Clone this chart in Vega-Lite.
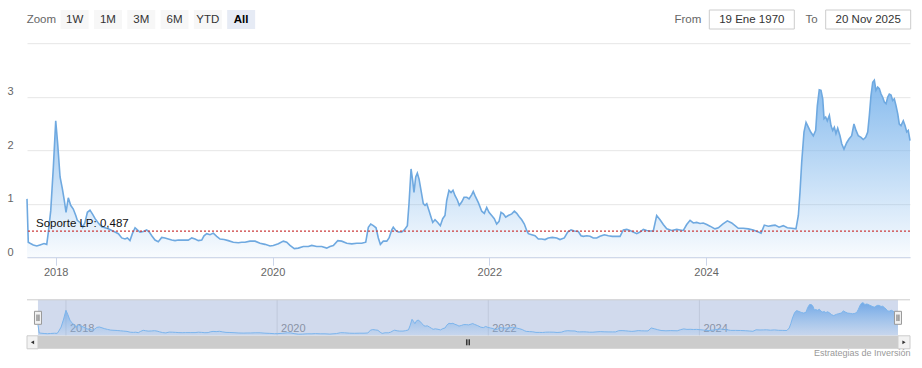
{
  "$schema": "https://vega.github.io/schema/vega-lite/v6.json",
  "padding": {"left": 7, "top": 9, "right": 0, "bottom": 0},
  "config": {"view": {"stroke": null}, "font": "Liberation Sans"},
  "datasets": {
    "serie": [
      {"t":2017.735,"v":1.09},{"t":2017.747,"v":0.28},{"t":2017.763,"v":0.26},{"t":2017.793,"v":0.23},{"t":2017.825,"v":0.21},{"t":2017.855,"v":0.23},{"t":2017.892,"v":0.255},{"t":2017.917,"v":0.24},{"t":2017.932,"v":0.47},{"t":2017.954,"v":0.87},{"t":2017.978,"v":1.68},{"t":2018.000,"v":2.55},{"t":2018.018,"v":2.12},{"t":2018.040,"v":1.50},{"t":2018.061,"v":1.28},{"t":2018.079,"v":1.06},{"t":2018.095,"v":0.84},{"t":2018.116,"v":1.11},{"t":2018.138,"v":0.97},{"t":2018.162,"v":0.90},{"t":2018.185,"v":0.78},{"t":2018.199,"v":0.69},{"t":2018.224,"v":0.65},{"t":2018.249,"v":0.56},{"t":2018.270,"v":0.65},{"t":2018.292,"v":0.84},{"t":2018.316,"v":0.88},{"t":2018.341,"v":0.80},{"t":2018.363,"v":0.72},{"t":2018.393,"v":0.64},{"t":2018.424,"v":0.57},{"t":2018.455,"v":0.55},{"t":2018.485,"v":0.53},{"t":2018.517,"v":0.50},{"t":2018.547,"v":0.47},{"t":2018.578,"v":0.44},{"t":2018.609,"v":0.36},{"t":2018.639,"v":0.34},{"t":2018.661,"v":0.36},{"t":2018.685,"v":0.31},{"t":2018.707,"v":0.44},{"t":2018.732,"v":0.55},{"t":2018.753,"v":0.51},{"t":2018.778,"v":0.47},{"t":2018.808,"v":0.48},{"t":2018.839,"v":0.51},{"t":2018.863,"v":0.47},{"t":2018.886,"v":0.40},{"t":2018.916,"v":0.32},{"t":2018.946,"v":0.29},{"t":2018.978,"v":0.37},{"t":2019.008,"v":0.36},{"t":2019.039,"v":0.34},{"t":2019.070,"v":0.32},{"t":2019.101,"v":0.31},{"t":2019.131,"v":0.32},{"t":2019.177,"v":0.32},{"t":2019.223,"v":0.32},{"t":2019.255,"v":0.36},{"t":2019.285,"v":0.34},{"t":2019.316,"v":0.31},{"t":2019.347,"v":0.32},{"t":2019.368,"v":0.40},{"t":2019.393,"v":0.44},{"t":2019.423,"v":0.42},{"t":2019.454,"v":0.45},{"t":2019.485,"v":0.39},{"t":2019.516,"v":0.34},{"t":2019.553,"v":0.33},{"t":2019.592,"v":0.31},{"t":2019.638,"v":0.28},{"t":2019.685,"v":0.27},{"t":2019.716,"v":0.28},{"t":2019.746,"v":0.28},{"t":2019.792,"v":0.30},{"t":2019.839,"v":0.30},{"t":2019.885,"v":0.26},{"t":2019.931,"v":0.24},{"t":2019.977,"v":0.21},{"t":2020.007,"v":0.22},{"t":2020.054,"v":0.25},{"t":2020.100,"v":0.30},{"t":2020.131,"v":0.28},{"t":2020.161,"v":0.22},{"t":2020.201,"v":0.16},{"t":2020.238,"v":0.17},{"t":2020.284,"v":0.20},{"t":2020.330,"v":0.20},{"t":2020.362,"v":0.22},{"t":2020.408,"v":0.20},{"t":2020.454,"v":0.20},{"t":2020.500,"v":0.17},{"t":2020.530,"v":0.20},{"t":2020.561,"v":0.22},{"t":2020.602,"v":0.31},{"t":2020.638,"v":0.30},{"t":2020.685,"v":0.26},{"t":2020.731,"v":0.25},{"t":2020.777,"v":0.26},{"t":2020.823,"v":0.26},{"t":2020.860,"v":0.28},{"t":2020.884,"v":0.56},{"t":2020.906,"v":0.62},{"t":2020.930,"v":0.59},{"t":2020.955,"v":0.55},{"t":2020.976,"v":0.36},{"t":2020.995,"v":0.24},{"t":2021.022,"v":0.30},{"t":2021.054,"v":0.30},{"t":2021.075,"v":0.36},{"t":2021.100,"v":0.51},{"t":2021.114,"v":0.56},{"t":2021.137,"v":0.50},{"t":2021.161,"v":0.47},{"t":2021.192,"v":0.47},{"t":2021.216,"v":0.51},{"t":2021.244,"v":0.59},{"t":2021.259,"v":1.00},{"t":2021.278,"v":1.65},{"t":2021.293,"v":1.43},{"t":2021.305,"v":1.21},{"t":2021.321,"v":1.50},{"t":2021.336,"v":1.57},{"t":2021.352,"v":1.46},{"t":2021.370,"v":1.25},{"t":2021.391,"v":1.00},{"t":2021.407,"v":0.97},{"t":2021.423,"v":1.00},{"t":2021.444,"v":0.87},{"t":2021.462,"v":0.75},{"t":2021.478,"v":0.65},{"t":2021.499,"v":0.70},{"t":2021.524,"v":0.65},{"t":2021.548,"v":0.59},{"t":2021.570,"v":0.72},{"t":2021.591,"v":0.78},{"t":2021.607,"v":1.06},{"t":2021.628,"v":1.25},{"t":2021.647,"v":1.21},{"t":2021.665,"v":1.25},{"t":2021.684,"v":1.15},{"t":2021.705,"v":1.07},{"t":2021.723,"v":0.97},{"t":2021.745,"v":1.03},{"t":2021.767,"v":1.12},{"t":2021.792,"v":1.12},{"t":2021.813,"v":1.09},{"t":2021.838,"v":1.17},{"t":2021.852,"v":1.23},{"t":2021.868,"v":1.15},{"t":2021.899,"v":1.02},{"t":2021.930,"v":0.86},{"t":2021.954,"v":0.82},{"t":2021.976,"v":0.93},{"t":2021.997,"v":0.84},{"t":2022.022,"v":0.78},{"t":2022.046,"v":0.72},{"t":2022.068,"v":0.62},{"t":2022.090,"v":0.67},{"t":2022.108,"v":0.84},{"t":2022.129,"v":0.81},{"t":2022.151,"v":0.75},{"t":2022.175,"v":0.78},{"t":2022.207,"v":0.81},{"t":2022.231,"v":0.86},{"t":2022.253,"v":0.82},{"t":2022.274,"v":0.76},{"t":2022.299,"v":0.70},{"t":2022.323,"v":0.62},{"t":2022.345,"v":0.50},{"t":2022.360,"v":0.44},{"t":2022.391,"v":0.42},{"t":2022.422,"v":0.40},{"t":2022.452,"v":0.34},{"t":2022.483,"v":0.34},{"t":2022.514,"v":0.33},{"t":2022.544,"v":0.36},{"t":2022.581,"v":0.37},{"t":2022.622,"v":0.36},{"t":2022.652,"v":0.33},{"t":2022.692,"v":0.36},{"t":2022.723,"v":0.47},{"t":2022.754,"v":0.51},{"t":2022.784,"v":0.49},{"t":2022.821,"v":0.48},{"t":2022.846,"v":0.40},{"t":2022.867,"v":0.39},{"t":2022.899,"v":0.40},{"t":2022.929,"v":0.39},{"t":2022.959,"v":0.36},{"t":2022.991,"v":0.36},{"t":2023.021,"v":0.39},{"t":2023.061,"v":0.42},{"t":2023.098,"v":0.40},{"t":2023.135,"v":0.39},{"t":2023.175,"v":0.39},{"t":2023.206,"v":0.39},{"t":2023.236,"v":0.51},{"t":2023.268,"v":0.52},{"t":2023.298,"v":0.50},{"t":2023.328,"v":0.47},{"t":2023.360,"v":0.44},{"t":2023.390,"v":0.47},{"t":2023.421,"v":0.52},{"t":2023.452,"v":0.50},{"t":2023.483,"v":0.49},{"t":2023.513,"v":0.49},{"t":2023.544,"v":0.78},{"t":2023.575,"v":0.70},{"t":2023.605,"v":0.61},{"t":2023.637,"v":0.53},{"t":2023.683,"v":0.50},{"t":2023.729,"v":0.52},{"t":2023.759,"v":0.51},{"t":2023.790,"v":0.50},{"t":2023.821,"v":0.61},{"t":2023.852,"v":0.69},{"t":2023.882,"v":0.64},{"t":2023.913,"v":0.65},{"t":2023.944,"v":0.63},{"t":2023.974,"v":0.64},{"t":2024.006,"v":0.61},{"t":2024.036,"v":0.58},{"t":2024.082,"v":0.53},{"t":2024.113,"v":0.55},{"t":2024.153,"v":0.62},{"t":2024.196,"v":0.68},{"t":2024.236,"v":0.64},{"t":2024.267,"v":0.59},{"t":2024.297,"v":0.54},{"t":2024.343,"v":0.54},{"t":2024.389,"v":0.53},{"t":2024.435,"v":0.51},{"t":2024.472,"v":0.48},{"t":2024.507,"v":0.45},{"t":2024.537,"v":0.60},{"t":2024.574,"v":0.58},{"t":2024.605,"v":0.59},{"t":2024.636,"v":0.60},{"t":2024.673,"v":0.56},{"t":2024.712,"v":0.59},{"t":2024.749,"v":0.55},{"t":2024.790,"v":0.54},{"t":2024.829,"v":0.53},{"t":2024.851,"v":0.78},{"t":2024.866,"v":1.21},{"t":2024.882,"v":1.78},{"t":2024.903,"v":2.34},{"t":2024.922,"v":2.52},{"t":2024.943,"v":2.43},{"t":2024.965,"v":2.34},{"t":2024.989,"v":2.27},{"t":2025.011,"v":2.37},{"t":2025.026,"v":2.83},{"t":2025.044,"v":3.13},{"t":2025.060,"v":3.12},{"t":2025.076,"v":2.96},{"t":2025.088,"v":2.59},{"t":2025.103,"v":2.62},{"t":2025.118,"v":2.55},{"t":2025.137,"v":2.65},{"t":2025.152,"v":2.46},{"t":2025.168,"v":2.37},{"t":2025.183,"v":2.43},{"t":2025.198,"v":2.31},{"t":2025.214,"v":2.41},{"t":2025.235,"v":2.27},{"t":2025.251,"v":2.12},{"t":2025.272,"v":2.02},{"t":2025.297,"v":2.14},{"t":2025.318,"v":2.21},{"t":2025.343,"v":2.27},{"t":2025.364,"v":2.49},{"t":2025.383,"v":2.37},{"t":2025.404,"v":2.27},{"t":2025.429,"v":2.24},{"t":2025.450,"v":2.20},{"t":2025.472,"v":2.24},{"t":2025.491,"v":2.34},{"t":2025.506,"v":2.65},{"t":2025.521,"v":3.02},{"t":2025.537,"v":3.27},{"t":2025.552,"v":3.31},{"t":2025.567,"v":3.12},{"t":2025.583,"v":3.18},{"t":2025.598,"v":3.15},{"t":2025.614,"v":3.05},{"t":2025.629,"v":2.99},{"t":2025.644,"v":2.90},{"t":2025.660,"v":2.87},{"t":2025.675,"v":2.99},{"t":2025.690,"v":3.05},{"t":2025.706,"v":3.03},{"t":2025.721,"v":2.93},{"t":2025.736,"v":2.96},{"t":2025.752,"v":2.83},{"t":2025.768,"v":2.68},{"t":2025.782,"v":2.49},{"t":2025.798,"v":2.46},{"t":2025.819,"v":2.55},{"t":2025.835,"v":2.46},{"t":2025.851,"v":2.34},{"t":2025.865,"v":2.37},{"t":2025.881,"v":2.18}
    ],
    "sop": [{"level": 0.487, "label": "Soporte LP: 0,487"}],
    "botones": [{"b":"Zoom"},{"b":"1W"},{"b":"1M"},{"b":"3M"},{"b":"6M"},{"b":"YTD"},{"b":"All"}],
    "rango": [{"k":"From","d":"19 Ene 1970"},{"k":"To","d":"20 Nov 2025"}],
    "extremos": [{"t":2017.735},{"t":2025.881}],
    "anios": [{"yr":2018},{"yr":2020},{"yr":2022},{"yr":2024}],
    "uno": [{"k":1}]
  },
  "bounds": "flush",
  "spacing": 14.2,
  "vconcat": [
    {
      "width": 883,
      "height": 19,
      "resolve": {"scale": {"x": "independent"}, "axis": {"x": "independent"}},
      "layer": [
        {
          "data": {"name": "botones"},
          "encoding": {"x": {"field": "b", "type": "nominal", "sort": null, "axis": null, "scale": {"type": "band", "domain": ["Zoom","1W","1M","3M","6M","YTD","All"], "range": [0, 228.5], "paddingInner": 0.16, "paddingOuter": 0.0105}}},
          "layer": [
            {"transform": [{"filter": "datum.b !== 'Zoom'"}], "mark": {"type": "rect"}, "encoding": {"color": {"condition": {"test": "datum.b === 'All'", "value": "#e6ebf5"}, "value": "#f7f7f7"}}},
            {"transform": [{"filter": "datum.b !== 'All'"}], "mark": {"type": "text", "fontSize": 11.5, "baseline": "middle"}, "encoding": {"text": {"field": "b"}, "color": {"condition": {"test": "datum.b === 'Zoom'", "value": "#666666"}, "value": "#333333"}}},
            {"transform": [{"filter": "datum.b === 'All'"}], "mark": {"type": "text", "fontSize": 11.5, "fontWeight": "bold", "baseline": "middle", "color": "#000000"}, "encoding": {"text": {"field": "b"}}}
          ]
        },
        {
          "data": {"name": "rango"},
          "encoding": {"x": {"field": "k", "type": "nominal", "sort": null, "axis": null, "scale": {"type": "point", "domain": ["From","To"], "range": [724.8, 841.2], "padding": 0}}},
          "layer": [
            {"mark": {"type": "bar", "width": 85, "fill": "#ffffff", "stroke": "#cccccc", "strokeWidth": 1}},
            {"mark": {"type": "text", "fontSize": 11.5, "baseline": "middle", "color": "#333333"}, "encoding": {"text": {"field": "d"}}},
            {"mark": {"type": "text", "fontSize": 11.5, "baseline": "middle", "align": "right", "dx": -50.5, "color": "#666666"}, "encoding": {"text": {"field": "k"}}}
          ]
        }
      ]
    },
    {
      "width": 883,
      "height": 214,
      "layer": [
        {
          "data": {"name": "serie"},
          "mark": {"type": "area", "line": false, "interpolate": "linear", "fill": {"gradient": "linear", "x1": 0, "y1": 0, "x2": 0, "y2": 1, "stops": [{"offset": 0, "color": "rgba(124,181,236,0.92)"}, {"offset": 1, "color": "rgba(124,181,236,0.05)"}]}},
          "encoding": {
            "x": {"field": "t", "type": "quantitative", "scale": {"domain": [2017.735, 2025.881], "nice": false, "zero": false},
                  "axis": {"title": null, "values": [2018, 2020, 2022, 2024], "format": "d", "grid": false, "domainColor": "#ccd6eb", "tickColor": "#ccd6eb", "tickSize": 8, "labelPadding": 1, "labelFontSize": 11, "labelColor": "#666666", "labelBaseline": "top"}},
            "y": {"field": "v", "type": "quantitative", "scale": {"domain": [0, 4], "nice": false},
                  "axis": {"title": null, "values": [0, 1, 2, 3, 4], "format": "d", "grid": true, "gridColor": "#e6e6e6", "domain": false, "ticks": false, "tickSize": 0, "labelAlign": "left", "labelPadding": 20, "labelBaseline": "alphabetic", "labelOffset": -2, "labelFontSize": 11, "labelColor": "#666666", "labelExpr": "datum.value === 4 ? '' : datum.label"}}
          }
        },
        {
          "data": {"name": "serie"},
          "mark": {"type": "line", "color": "#6fa9e0", "strokeWidth": 1.6},
          "encoding": {"x": {"field": "t", "type": "quantitative", "title": null}, "y": {"field": "v", "type": "quantitative", "title": null}}
        },
        {
          "data": {"name": "sop"},
          "mark": {"type": "rule", "color": "#cc3b3b", "strokeDash": [2, 2], "strokeWidth": 1.2},
          "encoding": {"y": {"field": "level", "type": "quantitative", "title": null}}
        },
        {
          "data": {"name": "sop"},
          "mark": {"type": "text", "align": "left", "baseline": "alphabetic", "dy": -4, "fontSize": 11.5, "color": "#111111"},
          "encoding": {"x": {"datum": 2017.818}, "y": {"field": "level", "type": "quantitative", "title": null}, "text": {"field": "label"}}
        }
      ]
    },
    {
      "width": 883,
      "height": 77.4,
      "title": {"text": "Estrategias de Inversión", "orient": "bottom", "anchor": "end", "fontSize": 9, "fontWeight": "normal", "color": "#999999", "offset": 0},
      "layer": [
        {
          "data": {"name": "anios"},
          "mark": {"type": "rule", "color": "#e6e6e6", "strokeWidth": 1},
          "encoding": {
            "x": {"field": "yr", "type": "quantitative", "scale": {"domain": [2017.631, 2025.995], "nice": false, "zero": false}, "axis": null},
            "y": {"datum": 0, "scale": {"domain": [-1.3, 6.44], "nice": false, "zero": false}, "axis": null},
            "y2": {"datum": 3.6}
          }
        },
        {
          "data": {"name": "anios"},
          "mark": {"type": "text", "align": "left", "baseline": "alphabetic", "dx": 4, "dy": -4, "fontSize": 11, "color": "#999999"},
          "encoding": {"x": {"field": "yr", "type": "quantitative", "axis": null}, "y": {"datum": 0, "axis": null}, "text": {"field": "yr", "type": "quantitative", "format": "d"}}
        },
        {
          "data": {"name": "uno"},
          "mark": {"type": "rect", "fill": "#6685c2", "fillOpacity": 0.3},
          "encoding": {"x": {"datum": 2017.735, "axis": null}, "x2": {"datum": 2025.881}, "y": {"datum": 0, "axis": null}, "y2": {"datum": 3.6}}
        },
        {
          "data": {"name": "serie"},
          "mark": {"type": "area", "line": false, "fill": {"gradient": "linear", "x1": 0, "y1": 0, "x2": 0, "y2": 1, "stops": [{"offset": 0, "color": "rgba(110,165,230,0.95)"}, {"offset": 1, "color": "rgba(124,181,236,0.1)"}]}},
          "encoding": {"x": {"field": "t", "type": "quantitative", "axis": null}, "y": {"field": "v", "type": "quantitative", "axis": null}}
        },
        {
          "data": {"name": "serie"},
          "mark": {"type": "line", "color": "#7cb5ec", "strokeWidth": 1},
          "encoding": {"x": {"field": "t", "type": "quantitative", "axis": null}, "y": {"field": "v", "type": "quantitative", "axis": null}}
        },
        {
          "data": {"name": "uno"},
          "mark": {"type": "rule", "color": "#cccccc", "strokeWidth": 1},
          "encoding": {"y": {"datum": 3.6, "axis": null}}
        },
        {
          "data": {"name": "extremos"},
          "mark": {"type": "point", "shape": "M-0.54,-1H0.54V1H-0.54Z", "size": 169, "filled": true, "fill": "#f2f2f2", "stroke": "#999999", "strokeWidth": 1, "opacity": 1},
          "encoding": {"x": {"field": "t", "type": "quantitative", "axis": null}, "y": {"datum": 1.8, "axis": null}}
        },
        {
          "data": {"name": "extremos"},
          "mark": {"type": "point", "shape": "M-0.15,-0.5V0.5M0.15,-0.5V0.5", "size": 169, "filled": false, "stroke": "#666666", "strokeWidth": 1, "opacity": 1},
          "encoding": {"x": {"field": "t", "type": "quantitative", "axis": null}, "y": {"datum": 1.8, "axis": null}}
        },
        {
          "data": {"name": "uno"},
          "mark": {"type": "rect", "fill": "#f2f2f2"},
          "encoding": {"x": {"datum": 2017.631, "axis": null}, "x2": {"datum": 2025.995}, "y": {"datum": -1.3, "axis": null}, "y2": {"datum": 0}}
        },
        {
          "data": {"name": "uno"},
          "mark": {"type": "rect", "fill": "#cccccc"},
          "encoding": {"x": {"datum": 2017.735, "axis": null}, "x2": {"datum": 2025.881}, "y": {"datum": -1.3, "axis": null}, "y2": {"datum": 0}}
        },
        {
          "data": {"name": "uno"},
          "mark": {"type": "rect", "fill": "#f2f2f2", "stroke": "#cccccc", "strokeWidth": 1},
          "encoding": {"x": {"datum": 2017.631, "axis": null}, "x2": {"datum": 2017.735}, "y": {"datum": -1.3, "axis": null}, "y2": {"datum": 0}}
        },
        {
          "data": {"name": "uno"},
          "mark": {"type": "rect", "fill": "#f2f2f2", "stroke": "#cccccc", "strokeWidth": 1},
          "encoding": {"x": {"datum": 2025.881, "axis": null}, "x2": {"datum": 2025.995}, "y": {"datum": -1.3, "axis": null}, "y2": {"datum": 0}}
        },
        {
          "data": {"name": "uno"},
          "mark": {"type": "point", "shape": "triangle-left", "size": 14, "filled": true, "color": "#333333", "opacity": 1},
          "encoding": {"x": {"datum": 2017.683, "axis": null}, "y": {"datum": -0.65, "axis": null}}
        },
        {
          "data": {"name": "uno"},
          "mark": {"type": "point", "shape": "triangle-right", "size": 14, "filled": true, "color": "#333333", "opacity": 1},
          "encoding": {"x": {"datum": 2025.938, "axis": null}, "y": {"datum": -0.65, "axis": null}}
        },
        {
          "data": {"name": "uno"},
          "mark": {"type": "point", "shape": "M-0.5,-1V1M0,-1V1M0.5,-1V1", "size": 36, "filled": false, "color": "#333333", "strokeWidth": 1, "opacity": 1},
          "encoding": {"x": {"datum": 2021.808, "axis": null}, "y": {"datum": -0.65, "axis": null}}
        }
      ]
    }
  ]
}
